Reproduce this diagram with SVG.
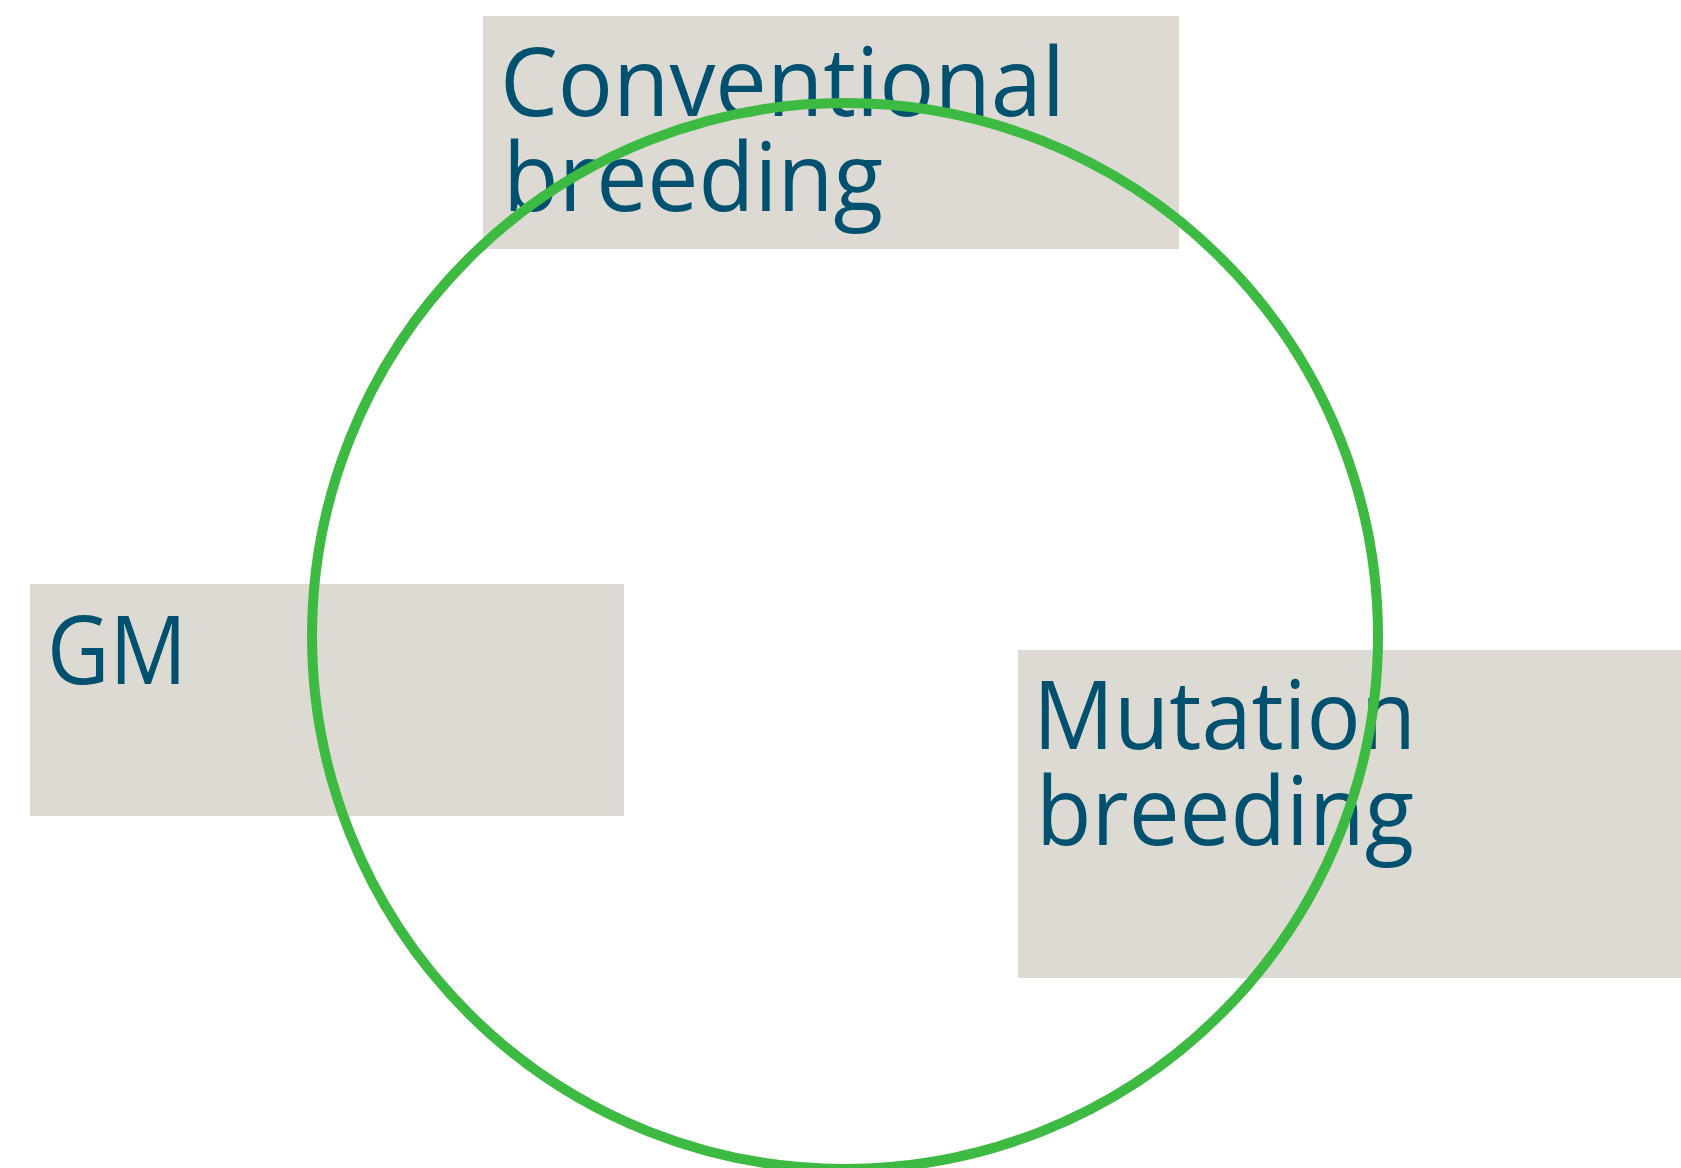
<svg xmlns="http://www.w3.org/2000/svg" width="1681" height="1168" viewBox="0 0 1681 1168">
<style>
.box{fill:#DDDAD3}
.lbl{font-family:"Open Sans","Noto Sans",sans-serif;font-size:96px;font-weight:500;fill:#00506F}
.ring{fill:none;stroke:#3DBA42;stroke-width:10}
</style>
<rect width="1681" height="1168" fill="#FFFFFF"/>
<g id="conventional">
<rect class="box" x="483" y="16" width="696" height="233"/>
<text class="lbl" x="500" y="116" textLength="565" lengthAdjust="spacingAndGlyphs">Conventional</text>
<text class="lbl" x="503" y="211" textLength="380" lengthAdjust="spacingAndGlyphs">breeding</text>
</g>
<g id="gm">
<rect class="box" x="30" y="584" width="594" height="232"/>
<text class="lbl" x="47" y="684" textLength="140" lengthAdjust="spacingAndGlyphs">GM</text>
</g>
<g id="mutation">
<rect class="box" x="1018" y="650" width="663" height="328"/>
<text class="lbl" x="1033" y="749" textLength="383" lengthAdjust="spacingAndGlyphs">Mutation</text>
<text class="lbl" x="1036" y="845" textLength="378" lengthAdjust="spacingAndGlyphs">breeding</text>
</g>
<g id="connectors">
<circle class="ring" cx="845" cy="636" r="533"/>
</g>
</svg>
